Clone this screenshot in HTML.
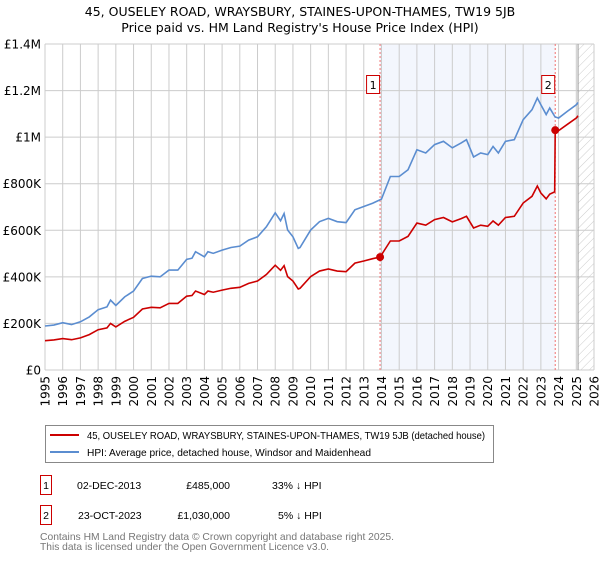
<!DOCTYPE html>
<html><head><meta charset="utf-8"><style>
body{margin:0;background:#fff;font-family:"Liberation Sans","DejaVu Sans",sans-serif;}
svg text{font-family:"DejaVu Sans","Liberation Sans",sans-serif;}
svg text.ls{font-family:"Liberation Sans","DejaVu Sans",sans-serif;}
</style></head><body>
<svg width="600" height="560" viewBox="0 0 600 560">
<defs><pattern id="hatch" width="6" height="6" patternUnits="userSpaceOnUse" patternTransform="rotate(45)"><line x1="0" y1="0" x2="0" y2="6" stroke="#ccc" stroke-width="1"/></pattern></defs>
<text x="300" y="16" text-anchor="middle" font-size="12.5" fill="#000">45, OUSELEY ROAD, WRAYSBURY, STAINES-UPON-THAMES, TW19 5JB</text>
<text x="300" y="32" text-anchor="middle" font-size="12.5" fill="#000">Price paid vs. HM Land Registry's House Price Index (HPI)</text>
<g id="plot"></g>
<g>
<rect x="45.5" y="425.5" width="448" height="37" fill="#fff" stroke="#888"/>
<line x1="50" y1="435" x2="79" y2="435" stroke="#cc0000" stroke-width="2"/>
<text class="ls" x="87" y="439" font-size="10.5" textLength="398" lengthAdjust="spacingAndGlyphs">45, OUSELEY ROAD, WRAYSBURY, STAINES-UPON-THAMES, TW19 5JB (detached house)</text>
<line x1="50" y1="452" x2="79" y2="452" stroke="#5b8dd0" stroke-width="2"/>
<text class="ls" x="87" y="456" font-size="10.5" textLength="284" lengthAdjust="spacingAndGlyphs">HPI: Average price, detached house, Windsor and Maidenhead</text>
</g>
<g font-size="10.5">
<rect x="40.5" y="475.5" width="11" height="19" fill="#fff" stroke="#cc0000"/>
<text class="ls" x="46" y="489" text-anchor="middle">1</text>
<text class="ls" x="77" y="489">02-DEC-2013</text>
<text class="ls" x="230" y="489" text-anchor="end">£485,000</text>
<text class="ls" x="272" y="489">33% ↓ HPI</text>
<rect x="40.5" y="505.5" width="11" height="19" fill="#fff" stroke="#cc0000"/>
<text class="ls" x="46" y="519" text-anchor="middle">2</text>
<text class="ls" x="78" y="519">23-OCT-2023</text>
<text class="ls" x="230" y="519" text-anchor="end">£1,030,000</text>
<text class="ls" x="278" y="519">5% ↓ HPI</text>
</g>
<text class="ls" x="40" y="540" font-size="10.5" fill="#777" textLength="354" lengthAdjust="spacingAndGlyphs">Contains HM Land Registry data © Crown copyright and database right 2025.</text>
<text class="ls" x="40" y="550" font-size="10.5" fill="#777" textLength="289" lengthAdjust="spacingAndGlyphs">This data is licensed under the Open Government Licence v3.0.</text>
</svg>
<script>
const hpiDates=[1995,1995.5,1996,1996.5,1997,1997.5,1998,1998.5,1998.7,1999,1999.5,2000,2000.5,2001,2001.5,2002,2002.5,2003,2003.3,2003.5,2004,2004.2,2004.5,2005,2005.5,2006,2006.5,2007,2007.5,2007.8,2008,2008.3,2008.5,2008.7,2009,2009.3,2009.4,2010,2010.5,2011,2011.5,2012,2012.5,2013,2013.5,2014,2014.5,2015,2015.5,2016,2016.5,2017,2017.5,2018,2018.5,2018.8,2019.2,2019.6,2020,2020.3,2020.6,2021,2021.5,2022,2022.5,2022.8,2023,2023.3,2023.5,2023.8,2024,2024.5,2025,2025.1];
const hpiValues=[189,193,203,195,207,228,259,271,300,277,314,339,393,403,400,429,429,475,480,508,486,508,501,515,526,532,558,572,615,651,675,641,672,601,572,522,526,601,637,651,637,633,688,702,716,734,831,831,860,946,932,968,982,954,975,989,915,932,925,960,932,982,989,1075,1118,1168,1139,1097,1125,1087,1082,1111,1139,1149];
const priceDates=[1995,1995.5,1996,1996.5,1997,1997.5,1998,1998.5,1998.7,1999,1999.5,2000,2000.5,2001,2001.5,2002,2002.5,2003,2003.3,2003.5,2004,2004.2,2004.5,2005,2005.5,2006,2006.5,2007,2007.5,2007.8,2008,2008.3,2008.5,2008.7,2009,2009.3,2009.4,2010,2010.5,2011,2011.5,2012,2012.5,2013,2013.5,2013.92,2014.5,2015,2015.5,2016,2016.5,2017,2017.5,2018,2018.5,2018.8,2019.2,2019.6,2020,2020.3,2020.6,2021,2021.5,2022,2022.5,2022.8,2023,2023.3,2023.5,2023.78,2023.81,2024,2024.5,2025,2025.1];
const priceValues=[126,129,135,130,138,152,173,181,200,185,209,226,262,269,267,286,286,317,320,339,324,339,334,343,351,355,372,382,410,434,450,428,448,401,382,348,351,401,425,434,425,422,459,468,478,485,554,554,574,631,622,646,655,636,650,660,610,622,617,640,622,655,660,717,746,790,760,735,755,765,1030,1028,1055,1082,1092];
const saleDates=[2013.92,2023.81];
const saleValues=[485,1030];
const yTicks=[0,200,400,600,800,1000,1200,1400];
const yTickLabels=["£0","£200K","£400K","£600K","£800K","£1M","£1.2M","£1.4M"];
const xTicks=[1995,1996,1997,1998,1999,2000,2001,2002,2003,2004,2005,2006,2007,2008,2009,2010,2011,2012,2013,2014,2015,2016,2017,2018,2019,2020,2021,2022,2023,2024,2025,2026];
const X0=45,X1=594,Y0=370,Y1=44;
const x=t=>X0+(t-1995)/(2026-1995)*(X1-X0);
const y=v=>Y0-v/1400*(Y0-Y1);
const NS="http://www.w3.org/2000/svg";
const g=document.getElementById('plot');
function mk(tag,attrs,parent){const e=document.createElementNS(NS,tag);for(const k in attrs)e.setAttribute(k,attrs[k]);(parent||g).appendChild(e);return e;}
let r=mk('rect',{x:x(saleDates[0]),y:Y1,width:x(saleDates[1])-x(saleDates[0]),height:Y0-Y1,fill:'#eef2fc',opacity:0.7});


let h=mk('rect',{x:x(2025.1),y:Y1,width:X1-x(2025.1),height:Y0-Y1,fill:'url(#hatch)'});


yTicks.forEach((v,i)=>{
 let l=mk('line',{x1:X0,x2:X1,y1:y(v),y2:y(v),stroke:'#ccc','stroke-width':1});
 
 
 let t=mk('text',{x:X0-4,y:y(v)+4.5,'text-anchor':'end','font-size':12});
 
 
 t.textContent=yTickLabels[i];
});
xTicks.forEach(yr=>{
 let l=mk('line',{x1:x(yr),x2:x(yr),y1:Y1,y2:Y0,stroke:'#ccc','stroke-width':1});
 
 
 let t=mk('text',{x:0,y:0,'text-anchor':'end','font-size':12,transform:`translate(${x(yr)+4.5},${Y0+6}) rotate(-90)`});
 
 
 t.textContent=yr;
});
let vl=mk('line',{x1:x(2025.1),x2:x(2025.1),y1:Y1,y2:Y0,stroke:'#999','stroke-width':1});


saleDates.forEach((d,i)=>{
 let l=mk('line',{x1:x(d),x2:x(d),y1:Y1,y2:Y0,stroke:'#f07070','stroke-width':1,'stroke-dasharray':'2,2'});
 
 
 let b=mk('rect',{x:x(d)-13.5,y:75.5,width:13,height:18,fill:'#fff',stroke:'#cc0000'});
 
 
 let t=mk('text',{x:x(d)-7,y:89,'text-anchor':'middle','font-size':11});
 
 
 t.textContent=String(i+1);
});
let hp=mk('polyline',{points:hpiDates.map((d,i)=>x(d)+','+y(hpiValues[i])).join(' '),fill:'none',stroke:'#5b8dd0','stroke-width':1.6});


let pp=mk('polyline',{points:priceDates.map((d,i)=>x(d)+','+y(priceValues[i])).join(' '),fill:'none',stroke:'#cc0000','stroke-width':1.6});


saleDates.forEach((d,i)=>{
 let c=mk('circle',{cx:x(d),cy:y(saleValues[i]),r:4,fill:'#cc0000'});
 
 
});
</script>
</body></html>
